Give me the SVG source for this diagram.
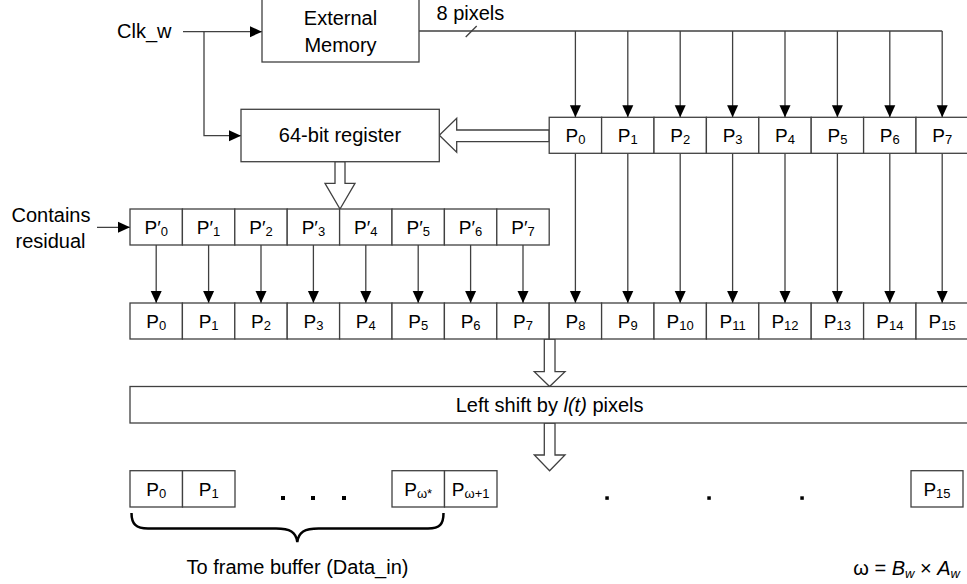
<svg xmlns="http://www.w3.org/2000/svg" width="967" height="584" viewBox="0 0 967 584">
<defs>
<marker id="ah" markerUnits="userSpaceOnUse" markerWidth="12" markerHeight="12" refX="12" refY="6" orient="auto">
<path d="M0,0.5 L12,6 L0,11.5 z" fill="#000"/>
</marker>
<style>
text{font-family:"Liberation Sans","DejaVu Sans",sans-serif;fill:#000;}
.t{font-size:20px;}
.p{font-size:19px;}
.s{font-size:13px;}
.box{fill:#fff;stroke:#404040;stroke-width:1.3;}
.ln{fill:none;stroke:#404040;stroke-width:1.3;}
.arr{fill:none;stroke:#404040;stroke-width:1.3;marker-end:url(#ah);}
.hol{fill:#fff;stroke:#404040;stroke-width:1.3;stroke-linejoin:miter;}
.dot{fill:#000;}
</style>
</defs>
<rect width="967" height="584" fill="#fff"/>

<g id="connectors">
<line class="arr" x1="183" y1="31.7" x2="262" y2="31.7"/>
<polyline class="arr" points="204,31.7 204,135.7 241,135.7"/>
<line class="arr" x1="97" y1="227.3" x2="130" y2="227.3"/>
<polyline class="ln" points="419,31 942.2,31"/>
<line class="ln" x1="465.7" y1="37" x2="476.7" y2="26"/>
<line class="arr" x1="575.4" y1="31" x2="575.4" y2="117.3"/>
<line class="arr" x1="627.8" y1="31" x2="627.8" y2="117.3"/>
<line class="arr" x1="680.2" y1="31" x2="680.2" y2="117.3"/>
<line class="arr" x1="732.6" y1="31" x2="732.6" y2="117.3"/>
<line class="arr" x1="785" y1="31" x2="785" y2="117.3"/>
<line class="arr" x1="837.4" y1="31" x2="837.4" y2="117.3"/>
<line class="arr" x1="889.8" y1="31" x2="889.8" y2="117.3"/>
<line class="arr" x1="942.2" y1="31" x2="942.2" y2="117.3"/>
<line class="arr" x1="575.4" y1="153.3" x2="575.4" y2="303"/>
<line class="arr" x1="627.8" y1="153.3" x2="627.8" y2="303"/>
<line class="arr" x1="680.2" y1="153.3" x2="680.2" y2="303"/>
<line class="arr" x1="732.6" y1="153.3" x2="732.6" y2="303"/>
<line class="arr" x1="785" y1="153.3" x2="785" y2="303"/>
<line class="arr" x1="837.4" y1="153.3" x2="837.4" y2="303"/>
<line class="arr" x1="889.8" y1="153.3" x2="889.8" y2="303"/>
<line class="arr" x1="942.2" y1="153.3" x2="942.2" y2="303"/>
<line class="arr" x1="156.2" y1="245" x2="156.2" y2="303"/>
<line class="arr" x1="208.6" y1="245" x2="208.6" y2="303"/>
<line class="arr" x1="261" y1="245" x2="261" y2="303"/>
<line class="arr" x1="313.4" y1="245" x2="313.4" y2="303"/>
<line class="arr" x1="365.8" y1="245" x2="365.8" y2="303"/>
<line class="arr" x1="418.2" y1="245" x2="418.2" y2="303"/>
<line class="arr" x1="470.6" y1="245" x2="470.6" y2="303"/>
<line class="arr" x1="523" y1="245" x2="523" y2="303"/>
<polygon class="hol" points="549.2,130 456.7,130 456.7,118.3 439.3,135.3 456.7,152.3 456.7,141.7 549.2,141.7"/>
<polygon class="hol" points="335,161.7 345,161.7 345,183.3 355,183.3 340,209 325,183.3 335,183.3"/>
<polygon class="hol" points="544.3,339 555,339 555,371.7 565,371.7 549.6,386.5 534.3,371.7 544.3,371.7"/>
<polygon class="hol" points="544.3,423 555,423 555,455 565,455 549.6,470.7 534.3,455 544.3,455"/>
<path class="ln" style="stroke:#000;stroke-width:2.5" d="M131.5,513 C131.5,524 136,528.5 148,528.5 L276,528.5 C290,528.5 296,532 297.3,542 C298.6,532 304.6,528.5 318.6,528.5 L428,528.5 C440,528.5 443.5,524 443.5,513"/>
</g>

<g id="clk"><text class="t" x="117" y="37.5">Clk_w</text></g>
<g id="ext-memory">
<rect class="box" x="262" y="-2" width="157" height="64"/>
<text class="t" x="340.5" y="25" text-anchor="middle">External</text>
<text class="t" x="340.5" y="51.5" text-anchor="middle">Memory</text>
</g>
<g id="bus-label"><text class="t" x="436.5" y="19.5">8 pixels</text></g>
<g id="register">
<rect class="box" x="241" y="109.3" width="198.3" height="52.4"/>
<text class="t" x="340" y="142" text-anchor="middle">64-bit register</text>
</g>
<g id="contains"><text class="t" x="51" y="221.7" text-anchor="middle">Contains</text><text class="t" x="50.5" y="247.5" text-anchor="middle">residual</text></g>

<g id="top-row">
<g id="t0"><rect class="box" x="549.2" y="117.3" width="52.4" height="36"/><text class="p" x="575.4" y="141.7" text-anchor="middle">P<tspan class="s" dy="2.5">0</tspan></text></g>
<g id="t1"><rect class="box" x="601.6" y="117.3" width="52.4" height="36"/><text class="p" x="627.8" y="141.7" text-anchor="middle">P<tspan class="s" dy="2.5">1</tspan></text></g>
<g id="t2"><rect class="box" x="654" y="117.3" width="52.4" height="36"/><text class="p" x="680.2" y="141.7" text-anchor="middle">P<tspan class="s" dy="2.5">2</tspan></text></g>
<g id="t3"><rect class="box" x="706.4" y="117.3" width="52.4" height="36"/><text class="p" x="732.6" y="141.7" text-anchor="middle">P<tspan class="s" dy="2.5">3</tspan></text></g>
<g id="t4"><rect class="box" x="758.8" y="117.3" width="52.4" height="36"/><text class="p" x="785" y="141.7" text-anchor="middle">P<tspan class="s" dy="2.5">4</tspan></text></g>
<g id="t5"><rect class="box" x="811.2" y="117.3" width="52.4" height="36"/><text class="p" x="837.4" y="141.7" text-anchor="middle">P<tspan class="s" dy="2.5">5</tspan></text></g>
<g id="t6"><rect class="box" x="863.6" y="117.3" width="52.4" height="36"/><text class="p" x="889.8" y="141.7" text-anchor="middle">P<tspan class="s" dy="2.5">6</tspan></text></g>
<g id="t7"><rect class="box" x="916" y="117.3" width="52.4" height="36"/><text class="p" x="942.2" y="141.7" text-anchor="middle">P<tspan class="s" dy="2.5">7</tspan></text></g>
</g>

<g id="residual-row">
<g id="r0"><rect class="box" x="130" y="209" width="52.4" height="36"/><text class="p" x="156.2" y="233.5" text-anchor="middle">P′<tspan class="s" dy="2.5">0</tspan></text></g>
<g id="r1"><rect class="box" x="182.4" y="209" width="52.4" height="36"/><text class="p" x="208.6" y="233.5" text-anchor="middle">P′<tspan class="s" dy="2.5">1</tspan></text></g>
<g id="r2"><rect class="box" x="234.8" y="209" width="52.4" height="36"/><text class="p" x="261" y="233.5" text-anchor="middle">P′<tspan class="s" dy="2.5">2</tspan></text></g>
<g id="r3"><rect class="box" x="287.2" y="209" width="52.4" height="36"/><text class="p" x="313.4" y="233.5" text-anchor="middle">P′<tspan class="s" dy="2.5">3</tspan></text></g>
<g id="r4"><rect class="box" x="339.6" y="209" width="52.4" height="36"/><text class="p" x="365.8" y="233.5" text-anchor="middle">P′<tspan class="s" dy="2.5">4</tspan></text></g>
<g id="r5"><rect class="box" x="392" y="209" width="52.4" height="36"/><text class="p" x="418.2" y="233.5" text-anchor="middle">P′<tspan class="s" dy="2.5">5</tspan></text></g>
<g id="r6"><rect class="box" x="444.4" y="209" width="52.4" height="36"/><text class="p" x="470.6" y="233.5" text-anchor="middle">P′<tspan class="s" dy="2.5">6</tspan></text></g>
<g id="r7"><rect class="box" x="496.8" y="209" width="52.4" height="36"/><text class="p" x="523" y="233.5" text-anchor="middle">P′<tspan class="s" dy="2.5">7</tspan></text></g>
</g>

<g id="merged-row">
<g id="m0"><rect class="box" x="130" y="303" width="52.4" height="36"/><text class="p" x="156.2" y="327.5" text-anchor="middle">P<tspan class="s" dy="2.5">0</tspan></text></g>
<g id="m1"><rect class="box" x="182.4" y="303" width="52.4" height="36"/><text class="p" x="208.6" y="327.5" text-anchor="middle">P<tspan class="s" dy="2.5">1</tspan></text></g>
<g id="m2"><rect class="box" x="234.8" y="303" width="52.4" height="36"/><text class="p" x="261" y="327.5" text-anchor="middle">P<tspan class="s" dy="2.5">2</tspan></text></g>
<g id="m3"><rect class="box" x="287.2" y="303" width="52.4" height="36"/><text class="p" x="313.4" y="327.5" text-anchor="middle">P<tspan class="s" dy="2.5">3</tspan></text></g>
<g id="m4"><rect class="box" x="339.6" y="303" width="52.4" height="36"/><text class="p" x="365.8" y="327.5" text-anchor="middle">P<tspan class="s" dy="2.5">4</tspan></text></g>
<g id="m5"><rect class="box" x="392" y="303" width="52.4" height="36"/><text class="p" x="418.2" y="327.5" text-anchor="middle">P<tspan class="s" dy="2.5">5</tspan></text></g>
<g id="m6"><rect class="box" x="444.4" y="303" width="52.4" height="36"/><text class="p" x="470.6" y="327.5" text-anchor="middle">P<tspan class="s" dy="2.5">6</tspan></text></g>
<g id="m7"><rect class="box" x="496.8" y="303" width="52.4" height="36"/><text class="p" x="523" y="327.5" text-anchor="middle">P<tspan class="s" dy="2.5">7</tspan></text></g>
<g id="m8"><rect class="box" x="549.2" y="303" width="52.4" height="36"/><text class="p" x="575.4" y="327.5" text-anchor="middle">P<tspan class="s" dy="2.5">8</tspan></text></g>
<g id="m9"><rect class="box" x="601.6" y="303" width="52.4" height="36"/><text class="p" x="627.8" y="327.5" text-anchor="middle">P<tspan class="s" dy="2.5">9</tspan></text></g>
<g id="m10"><rect class="box" x="654" y="303" width="52.4" height="36"/><text class="p" x="680.2" y="327.5" text-anchor="middle">P<tspan class="s" dy="2.5">10</tspan></text></g>
<g id="m11"><rect class="box" x="706.4" y="303" width="52.4" height="36"/><text class="p" x="732.6" y="327.5" text-anchor="middle">P<tspan class="s" dy="2.5">11</tspan></text></g>
<g id="m12"><rect class="box" x="758.8" y="303" width="52.4" height="36"/><text class="p" x="785" y="327.5" text-anchor="middle">P<tspan class="s" dy="2.5">12</tspan></text></g>
<g id="m13"><rect class="box" x="811.2" y="303" width="52.4" height="36"/><text class="p" x="837.4" y="327.5" text-anchor="middle">P<tspan class="s" dy="2.5">13</tspan></text></g>
<g id="m14"><rect class="box" x="863.6" y="303" width="52.4" height="36"/><text class="p" x="889.8" y="327.5" text-anchor="middle">P<tspan class="s" dy="2.5">14</tspan></text></g>
<g id="m15"><rect class="box" x="916" y="303" width="52.4" height="36"/><text class="p" x="942.2" y="327.5" text-anchor="middle">P<tspan class="s" dy="2.5">15</tspan></text></g>
</g>

<g id="left-shift">
<rect class="box" x="130" y="386.5" width="850" height="36.5"/>
<text class="t" x="549.6" y="412" text-anchor="middle">Left shift by <tspan font-style="italic">l(t)</tspan> pixels</text>
</g>

<g id="output-row">
<g id="o0"><rect class="box" x="130" y="470.7" width="52.5" height="36.3"/><text class="p" x="156.2" y="495.5" text-anchor="middle">P<tspan class="s" dy="2.5">0</tspan></text></g>
<g id="o1"><rect class="box" x="182.5" y="470.7" width="52.5" height="36.3"/><text class="p" x="208.7" y="495.5" text-anchor="middle">P<tspan class="s" dy="2.5">1</tspan></text></g>
<g id="o-w"><rect class="box" x="392" y="470.7" width="52.5" height="36.3"/><text class="p" x="418.2" y="495.5" text-anchor="middle">P<tspan class="s" dy="2.5">ω*</tspan></text></g>
<g id="o-w1"><rect class="box" x="444.5" y="470.7" width="52.5" height="36.3"/><text class="p" x="470.7" y="495.5" text-anchor="middle">P<tspan class="s" dy="2.5">ω+1</tspan></text></g>
<g id="o15"><rect class="box" x="911" y="470.7" width="52" height="36.3"/><text class="p" x="937" y="495.5" text-anchor="middle">P<tspan class="s" dy="2.5">15</tspan></text></g>
<g id="dots">
<rect class="dot" x="281" y="496" width="4" height="4"/>
<rect class="dot" x="311" y="496" width="4" height="4"/>
<rect class="dot" x="342" y="496" width="4" height="4"/>
<rect class="dot" x="605.3" y="496.3" width="3.5" height="3.5"/>
<rect class="dot" x="707.3" y="496.3" width="3.5" height="3.5"/>
<rect class="dot" x="800.3" y="496.3" width="3.5" height="3.5"/>
</g>
</g>

<g id="brace-label"><text class="t" x="297.5" y="574" text-anchor="middle">To frame buffer (Data_in)</text></g>
<g id="formula"><text class="t" x="960" y="575" text-anchor="end">ω = <tspan font-style="italic">B</tspan><tspan class="s" font-style="italic" dy="3">w</tspan><tspan dy="-3"> × </tspan><tspan font-style="italic">A</tspan><tspan class="s" font-style="italic" dy="3">w</tspan></text></g>
</svg>
